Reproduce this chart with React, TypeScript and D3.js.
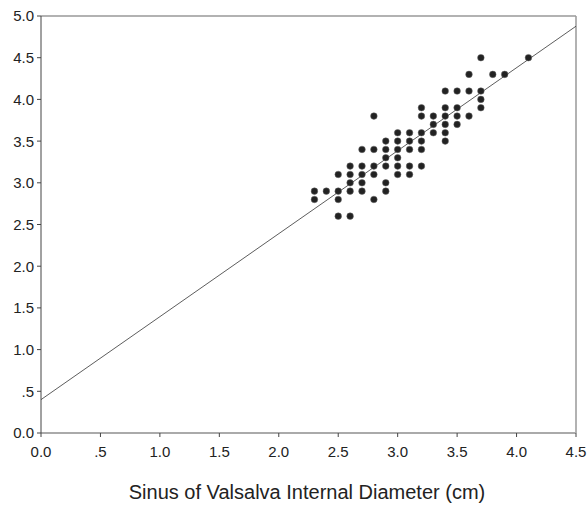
import React from "react";
import * as d3 from "d3";

const xValues = [2.3,2.3,2.4,2.5,2.5,2.5,2.5,2.6,2.6,2.6,2.6,2.6,2.7,2.7,2.7,2.7,2.7,2.8,2.8,2.8,2.8,2.8,2.9,2.9,2.9,2.9,2.9,2.9,3.0,3.0,3.0,3.0,3.0,3.0,3.1,3.1,3.1,3.1,3.1,3.2,3.2,3.2,3.2,3.2,3.2,3.3,3.3,3.3,3.4,3.4,3.4,3.4,3.4,3.4,3.5,3.5,3.5,3.5,3.6,3.6,3.6,3.7,3.7,3.7,3.7,3.8,3.9,4.1];
const yValues = [2.9,2.8,2.9,3.1,2.9,2.8,2.6,3.2,3.1,3.0,2.9,2.6,3.4,3.2,3.1,3.0,2.9,3.8,3.4,3.2,3.1,2.8,3.5,3.4,3.3,3.2,3.0,2.9,3.6,3.5,3.4,3.3,3.2,3.1,3.6,3.5,3.4,3.2,3.1,3.9,3.8,3.6,3.5,3.4,3.2,3.8,3.7,3.6,4.1,3.9,3.8,3.7,3.6,3.5,4.1,3.9,3.8,3.7,4.3,4.1,3.8,4.5,4.1,4.0,3.9,4.3,4.3,4.5];
const xTicks = [0, 0.5, 1, 1.5, 2, 2.5, 3, 3.5, 4, 4.5];
const yTicks = [0, 0.5, 1, 1.5, 2, 2.5, 3, 3.5, 4, 4.5, 5];
const fitIntercept = 0.4;
const fitSlope = 0.995;
const xLabel = "Sinus of Valsalva Internal Diameter (cm)";

const fmt = (v: number) => (v === 0.5 ? ".5" : v.toFixed(1));

export default function App() {
  const W = 588, H = 512;
  const left = 41, right = 576, top = 16, bottom = 433;
  const x = d3.scaleLinear().domain([0, 4.5]).range([left, right]);
  const y = d3.scaleLinear().domain([0, 5]).range([bottom, top]);
  const font = "Arial, 'Liberation Sans', sans-serif";
  const lineGen = d3.line<number>().x((d) => x(d)).y((d) => y(fitIntercept + fitSlope * d));
  return (
    <svg width={W} height={H} style={{ position: "absolute", left: 0, top: 0, background: "#fff" }}>
      <line x1={left} x2={right} y1={top} y2={top} stroke="#999" strokeWidth={1.5} />
      <line x1={right} x2={right} y1={top} y2={bottom} stroke="#999" strokeWidth={1.5} />
      <line x1={left} x2={right} y1={bottom} y2={bottom} stroke="#aaa" strokeWidth={2} />
      <line x1={left} x2={left} y1={top} y2={bottom} stroke="#444" strokeWidth={1} />
      {yTicks.map((t) => (
        <g key={"y" + t}>
          <line x1={left - 4} x2={left} y1={y(t)} y2={y(t)} stroke="#444" />
          <text x={left - 7} y={y(t)} dy="0.36em" textAnchor="end" fontFamily={font} fontSize={15} fill="#222">
            {fmt(t)}
          </text>
        </g>
      ))}
      {xTicks.map((t) => (
        <g key={"x" + t}>
          <line x1={x(t)} x2={x(t)} y1={bottom} y2={bottom + 4} stroke="#444" />
          <text x={x(t)} y={457} textAnchor="middle" fontFamily={font} fontSize={15} fill="#222">
            {fmt(t)}
          </text>
        </g>
      ))}
      <path d={lineGen([0, 4.5]) || ""} stroke="#333" strokeWidth={0.8} fill="none" />
      {xValues.map((xv, i) => (
        <circle key={i} cx={x(xv)} cy={y(yValues[i])} r={3.3} fill="#222" stroke="#666" strokeWidth={0.5} />
      ))}
      <text x={307} y={499} textAnchor="middle" fontFamily={font} fontSize={20} fill="#222">
        {xLabel}
      </text>
    </svg>
  );
}
